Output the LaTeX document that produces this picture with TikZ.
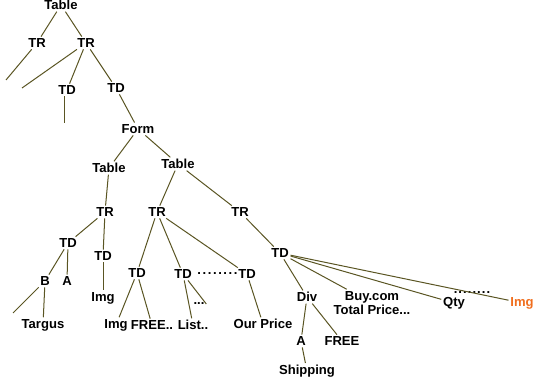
\documentclass[tikz,border=0pt]{standalone}
\usepackage{fontspec}
\setmainfont{Liberation Sans}
\begin{document}
\begin{tikzpicture}[x=0.75pt,y=-0.75pt,
  lbl/.style={font=\bfseries\fontsize{9.8}{11}\selectfont, inner sep=1.2pt, text=black},
  edge/.style={draw={rgb,255:red,90;green,85;blue,35}, line width=0.75pt}]
\definecolor{orng}{RGB}{240,110,30}
\useasboundingbox (0,0) rectangle (533,385);
\node[lbl] (t0) at (61,5) {Table};
\node[lbl] (tr1) at (37,43) {TR};
\node[lbl] (tr2) at (86,43) {TR};
\node[lbl] (td1) at (67,90) {TD};
\node[lbl] (td2) at (116,88) {TD};
\node[lbl] (form) at (138,129) {Form};
\node[lbl] (tb1) at (109,168) {Table};
\node[lbl] (tb2) at (178,164) {Table};
\node[lbl] (tr3) at (105,212) {TR};
\node[lbl] (tr4) at (157,212) {TR};
\node[lbl] (tr5) at (240,212) {TR};
\node[lbl] (td3) at (68,243) {TD};
\node[lbl] (td4) at (103,256) {TD};
\node[lbl] (b) at (45,281) {B};
\node[lbl] (a1) at (67,281) {A};
\node[lbl] (img1) at (103,298) {Img};
\node[lbl] (targus) at (43,325) {Targus};
\node[lbl] (td5) at (137,273) {TD};
\node[lbl] (td6) at (183,274) {TD};
\node[lbl] (td7) at (247,274) {TD};
\node[lbl, anchor=east, inner sep=0pt] (dots1) at ([xshift=1pt]td7.west) {\addfontfeature{LetterSpace=12}........};
\node[lbl] (img2) at (116,325) {Img};
\node[lbl] (free) at (152,325) {FREE..};
\node[lbl] (list) at (193,325) {List..};
\node[lbl] (ell) at (199,304) {...};
\node[lbl] (ourprice) at (263,324) {Our Price};
\node[lbl] (td8) at (280,253) {TD};
\node[lbl] (div) at (307,297) {Div};
\node[lbl, align=center] (buy) at (372,303) {Buy.com\\Total Price...};
\node[lbl] (qty) at (454,303) {Qty};
\node[lbl] (qdots) at (472,293) {\addfontfeature{LetterSpace=8}........};
\node[lbl, text=orng] (img3) at (522,303) {Img};
\node[lbl] (a2) at (301,341) {A};
\node[lbl] (free2) at (342,341) {FREE};
\node[lbl] (ship) at (307,371) {Shipping};
\coordinate (e1) at (6,80);
\coordinate (e2) at (22,88);
\coordinate (e3) at (64,123);
\coordinate (e4) at (13,313);
\draw[edge] (t0) -- (tr1);
\draw[edge] (t0) -- (tr2);
\draw[edge] (tr1) -- (e1);
\draw[edge] (tr2) -- (e2);
\draw[edge] (tr2) -- (td1);
\draw[edge] (tr2) -- (td2);
\draw[edge] (td1.south -| e3) -- (e3);
\draw[edge] (td2) -- (form);
\draw[edge] (form) -- (tb1);
\draw[edge] (form) -- (tb2);
\draw[edge] (tb1) -- (tr3);
\draw[edge] (tb2) -- (tr4);
\draw[edge] (tb2) -- (tr5);
\draw[edge] (tr3) -- (td3);
\draw[edge] (tr3) -- (td4);
\draw[edge] (td3) -- (b);
\draw[edge] (td3) -- (a1);
\draw[edge] (b) -- (e4);
\draw[edge] (b) -- (targus);
\draw[edge] (td4) -- (img1);
\draw[edge] (tr4) -- (td5);
\draw[edge] (tr4) -- (td6);
\draw[edge] (tr4) -- (td7);
\draw[edge] (td5) -- (img2);
\draw[edge] (td5) -- (free);
\draw[edge] (td6) -- (list);
\draw[edge] (td6) -- (ell.east);
\draw[edge] (td7) -- (ourprice);
\draw[edge] (tr5) -- (td8);
\draw[edge] (td8) -- (div);
\draw[edge] (td8) -- (buy);
\draw[edge] (td8) -- (qty);
\draw[edge] (td8) -- (img3);
\draw[edge] (div) -- (a2);
\draw[edge] (div) -- (free2);
\draw[edge] (a2) -- (ship);
\end{tikzpicture}
\end{document}
